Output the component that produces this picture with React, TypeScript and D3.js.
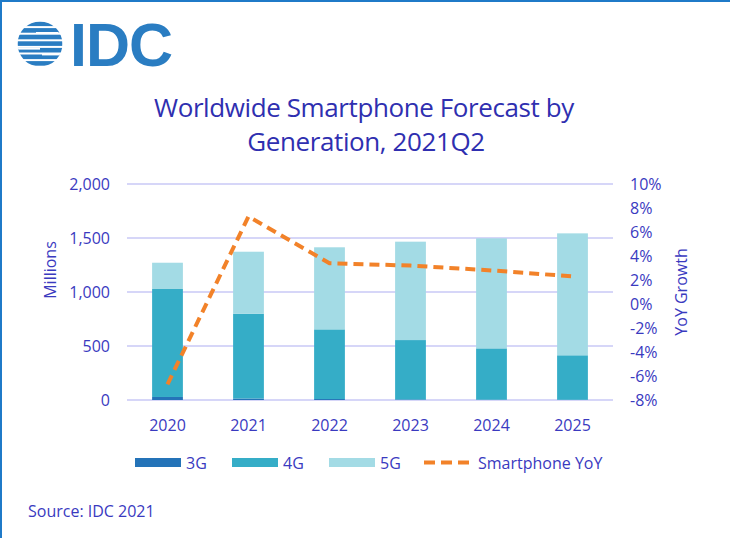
import * as d3 from 'd3';

const years = ['2020', '2021', '2022', '2023', '2024', '2025'];
const g3 = [28, 14, 9, 5, 3, 2];
const g4 = [1000, 785, 645, 550, 475, 412];
const g5 = [243, 574, 760, 911, 1019, 1129];
const yoy = [-6.7, 7.3, 3.4, 3.2, 2.8, 2.3];
const leftTicks = [0, 500, 1000, 1500, 2000];
const rightTicks = [-8, -6, -4, -2, 0, 2, 4, 6, 8, 10];

const W = 730;
const H = 538;
const PLOT = { left: 127, right: 613, top: 184, bottom: 400 };

const SERIES = [
  { key: '3G', values: g3, color: '#2473b8' },
  { key: '4G', values: g4, color: '#35adc7' },
  { key: '5G', values: g5, color: '#a3dbe5' },
];
const LINE_COLOR = '#f28229';
const TEXT = '#3a3abf';
const TITLE = '#2f2fb0';
const GRID = '#c9c9f6';
const LOGO = '#2a7dc2';
const FONT = '"Open Sans", "Noto Sans", sans-serif';

function Logo() {
  const cx = 40;
  const cy = 44;
  const r = 22.5;
  const bands = d3.range(7).map((i) => cy - r + i * 6.6);
  return (
    <g>
      <defs>
        <clipPath id="globe">
          <circle cx={cx} cy={cy} r={r} />
        </clipPath>
      </defs>
      <g clipPath="url(#globe)">
        {bands.map((y, i) => (
          <rect key={i} x={cx - r} y={y} width={r * 2} height={4.6} fill={LOGO} />
        ))}
        <rect x={cx - 4} y={cy - 12} width={r} height={1.6} fill="#fff" />
        <rect x={cx - r} y={cy + 4} width={r} height={1.6} fill="#fff" />
        <rect x={cx + 2} y={cy + 10} width={r} height={1.4} fill="#fff" />
      </g>
      <text x={70} y={66} fill={LOGO} fontFamily='"Liberation Sans", Arial, sans-serif'
        fontWeight={700} fontSize={61} letterSpacing={-1}>IDC</text>
    </g>
  );
}

export default function App() {
  const x = d3.scaleBand<string>().domain(years).range([PLOT.left, PLOT.right])
    .paddingInner(0.62).paddingOuter(0.31);
  const y = d3.scaleLinear().domain([0, 2000]).range([PLOT.bottom, PLOT.top]);
  const y2 = d3.scaleLinear().domain([-8, 10]).range([PLOT.bottom, PLOT.top]);

  const stackData = years.map((yr, i) => ({ year: yr, '3G': g3[i], '4G': g4[i], '5G': g5[i] }));
  const stacked = d3.stack<any>().keys(SERIES.map((s) => s.key))(stackData);

  const line = d3.line<number>()
    .x((_, i) => (x(years[i]) ?? 0) + x.bandwidth() / 2)
    .y((d) => y2(d));

  const legendItems = [
    { label: '3G', x: 135, color: SERIES[0].color },
    { label: '4G', x: 232, color: SERIES[1].color },
    { label: '5G', x: 329, color: SERIES[2].color },
  ];

  return (
    <div style={{ position: 'absolute', left: 0, top: 0 }}>
      <svg width={W} height={H} style={{ display: 'block', background: '#fff' }}>
        <line x1={0} y1={1} x2={W} y2={1} stroke="#1f7ac8" strokeWidth={2} />
        <line x1={1} y1={0} x2={1} y2={H} stroke="#1f7ac8" strokeWidth={2} />

        <Logo />

        <g fontFamily={FONT} fill={TITLE} fontSize={26} textAnchor="middle" letterSpacing={-0.4}>
          <text x={364} y={117}>Worldwide Smartphone Forecast by</text>
          <text x={366} y={151}>Generation, 2021Q2</text>
        </g>

        {leftTicks.map((t) => (
          <line key={t} x1={PLOT.left} x2={PLOT.right} y1={y(t)} y2={y(t)} stroke={GRID} strokeWidth={1.5} />
        ))}

        {stacked.map((layer, si) => (
          <g key={layer.key} fill={SERIES[si].color}>
            {layer.map((d, i) => (
              <rect key={i} x={x(years[i])} y={y(d[1])} width={x.bandwidth()}
                height={Math.max(0, y(d[0]) - y(d[1]))} />
            ))}
          </g>
        ))}

        <path d={line(yoy) ?? ''} fill="none" stroke={LINE_COLOR} strokeWidth={4}
          strokeDasharray="10 6" />

        <g fontFamily={FONT} fontSize={16} fill={TEXT}>
          {leftTicks.map((t) => (
            <text key={t} x={110} y={y(t) + 6} textAnchor="end">{d3.format(',')(t)}</text>
          ))}
          {rightTicks.map((t) => (
            <text key={t} x={630} y={y2(t) + 6}>{t}%</text>
          ))}
          {years.map((yr) => (
            <text key={yr} x={(x(yr) ?? 0) + x.bandwidth() / 2} y={431} textAnchor="middle">{yr}</text>
          ))}
          <text transform="translate(56,270) rotate(-90)" textAnchor="middle">Millions</text>
          <text transform="translate(687,292) rotate(-90)" textAnchor="middle">YoY Growth</text>

          {legendItems.map((it) => (
            <g key={it.label}>
              <rect x={it.x} y={458} width={46} height={9} fill={it.color} />
              <text x={it.x + 51} y={469}>{it.label}</text>
            </g>
          ))}
          <line x1={424} x2={470} y1={462.5} y2={462.5} stroke={LINE_COLOR} strokeWidth={4}
            strokeDasharray="11 6" />
          <text x={478} y={469}>Smartphone YoY</text>

          <text x={28} y={517}>Source: IDC 2021</text>
        </g>
      </svg>
    </div>
  );
}
